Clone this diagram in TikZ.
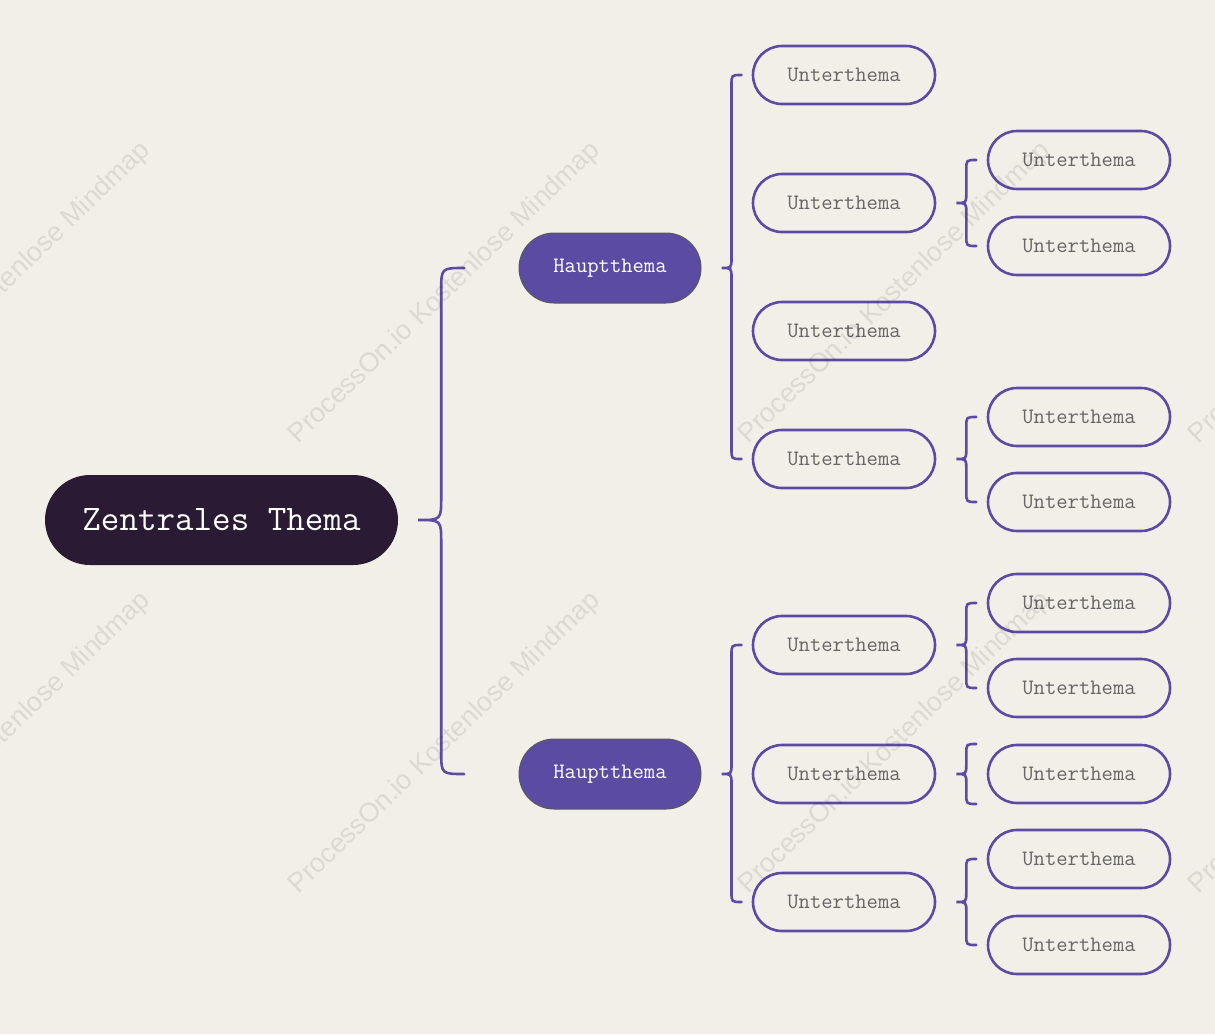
\documentclass[tikz,border=0pt]{standalone}
\usepackage{fontspec}
\usetikzlibrary{calc}
\newfontfamily\markfont{Liberation Sans}
\definecolor{paper}{HTML}{F2EFE9}
\definecolor{night}{HTML}{2A1A33}
\definecolor{topic}{HTML}{5C4BA3}
% brace from a parent to its first and last child
\newcommand{\mapbrace}[4]{
	\draw[bracket] let \p1=(#1.east), \p2=(#2), \p3=(#3) in
		({\x1+20pt+2*#4},\y2) .. controls ({\x1+20pt+#4},\y2) .. ({\x1+20pt+#4},{\y2-#4})
		-- ({\x1+20pt+#4},{\y1+#4}) .. controls ({\x1+20pt+#4},\y1) .. ({\x1+20pt},\y1)
		.. controls ({\x1+20pt+#4},\y1) .. ({\x1+20pt+#4},{\y1-#4})
		-- ({\x1+20pt+#4},{\y3+#4}) .. controls ({\x1+20pt+#4},\y3) .. ({\x1+20pt+2*#4},\y3);
}

\begin{document}
\begin{tikzpicture}[x=1pt, y=-1pt,
	bracket/.style={draw=topic, line width=2.6pt, line cap=round},
	central/.style={fill=night, text=white, inner sep=0pt, minimum width=353pt, minimum height=90pt,
		rounded corners=45pt, font=\ttfamily\fontsize{36}{40}\selectfont},
	maintopic/.style={fill=topic, draw=black!65, line width=1pt, text=white, inner sep=0pt,
		minimum width=182pt, minimum height=70pt, rounded corners=35pt, font=\ttfamily\fontsize{22}{26}\selectfont},
	subtopic/.style={fill=paper, draw=topic, line width=2.6pt, text=black!60, inner sep=0pt,
		minimum width=182pt, minimum height=58pt, rounded corners=29pt, font=\ttfamily\fontsize{22}{26}\selectfont},
	stamp/.style={text=black, opacity=0.09, font=\markfont\fontsize{27}{30}\selectfont}]

	\useasboundingbox (0,0) rectangle (1215,1034);
	\fill[paper] (0,0) rectangle (1215,1034);

	% Topics
	\node[central] (c) at (221.5,520) {Zentrales Thema};
	\node[maintopic] (h1) at (610,268) {Hauptthema};
	\node[maintopic] (h2) at (610,774) {Hauptthema};

	\foreach \n/\y in {u1/75, u2/203, u3/331, u4/459, u5/645, u6/774, u7/902}
		\node[subtopic] (\n) at (844,\y) {Unterthema};
	\foreach \n/\y in {v1/160, v2/246, v3/417, v4/502, v5/603, v6/688, v7/774, v8/859, v9/945}
		\node[subtopic] (\n) at (1079,\y) {Unterthema};

	\coordinate (v7a) at ($(v7.west)+(0,-30)$);
	\coordinate (v7b) at ($(v7.west)+(0,30)$);

	% Braces
	\mapbrace{c}{h1.west}{h2.west}{23pt}
	\mapbrace{h1}{u1.west}{u4.west}{10pt}
	\mapbrace{h2}{u5.west}{u7.west}{10pt}
	\mapbrace{u2}{v1.west}{v2.west}{10pt}
	\mapbrace{u4}{v3.west}{v4.west}{10pt}
	\mapbrace{u5}{v5.west}{v6.west}{10pt}
	\mapbrace{u6}{v7a}{v7b}{10pt}
	\mapbrace{u7}{v8.west}{v9.west}{10pt}

	% Watermark
	\begin{scope}
		\clip (0,0) rectangle (1215,1034);
		\foreach \x in {-5,445,895,1345} {
			\foreach \y in {293,743}
				\node[stamp, rotate=44] (w\x-\y) at (\x,\y) {ProcessOn.io Kostenlose Mindmap};
		}
	\end{scope}

\end{tikzpicture}
\end{document}
